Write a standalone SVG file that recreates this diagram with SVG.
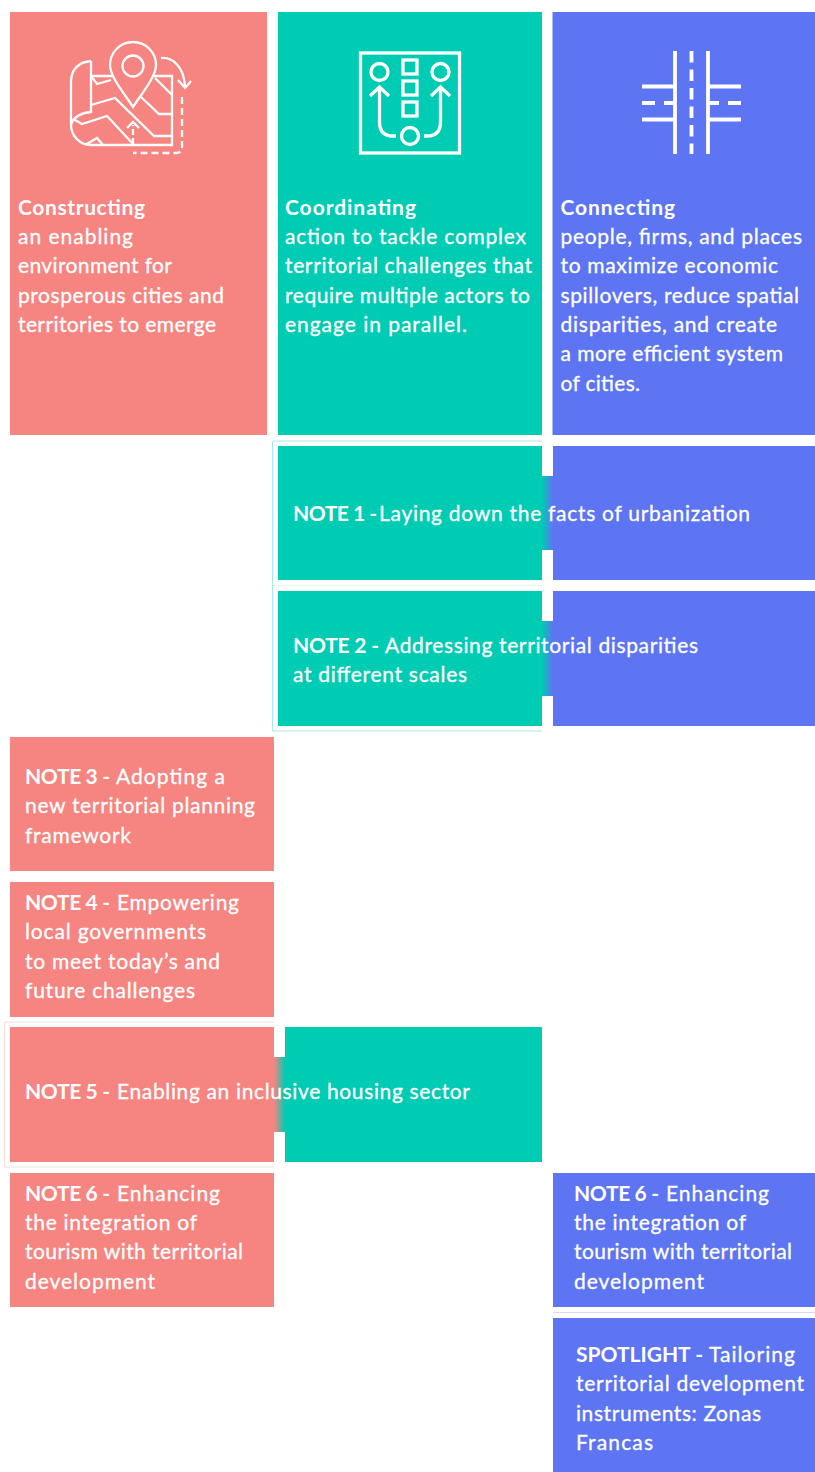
<svg xmlns="http://www.w3.org/2000/svg" width="815" height="1472" viewBox="0 0 815 1472">
<style>
.r{fill:#F68480}.g{fill:#00CCB4}.b{fill:#5D75F2}
text{font-family:"Lato","Liberation Sans",sans-serif;font-size:21px;fill:#fff;stroke:#fff;stroke-width:.3px}
.h{font-weight:700;stroke-width:0}
.i{fill:none;stroke:#fff;stroke-width:2.300}
.j{fill:none;stroke:#fff;stroke-width:3.300}
.k{fill:none;stroke:#fff;stroke-width:3.800}
</style>
<defs>
<linearGradient id="gb"><stop offset="0" stop-color="#00CCB4"/><stop offset="1" stop-color="#5D75F2"/></linearGradient>
<linearGradient id="rg"><stop offset="0" stop-color="#F68480"/><stop offset="1" stop-color="#00CCB4"/></linearGradient>
</defs>
<rect width="815" height="1472" fill="#fff"/>
<g id="constructing">
<rect class="r" x="10" y="12" width="257" height="423"/>
<g class="i">
<path d="M91 61C78 62 71 70 71 82V125C71 136 80 145 91 145H172V76H154M91 61V112C80 113 73 118 71 125M91 76H112M91 76L97 84L111 80M91 105L115 98L154 136H172M75 120L82 124L107 116L134 145M85 145L97 138L103 145M141 97L159 114H172M155 78L172 95"/>
<path d="M133 107C124 93 110 77 110 65A22.500 22.500 0 0 1 156 65C156 77 142 93 133 107Z" fill="#F68480"/>
<circle cx="133" cy="66" r="10.500"/>
<path d="M161 58C172 57 184 66 185 87M178 80L185 88L191 81"/>
<path d="M182 97V147Q182 153 176 153H133" stroke-dasharray="7 4"/>
<path d="M133 144V125" stroke-dasharray="6 3"/>
<path d="M127 128L133 122L139 128"/>
</g>
<text x="18" y="215" class="h" textLength="127">Constructing</text>
<text x="18" y="244" textLength="115">an enabling</text>
<text x="18" y="273" textLength="154">environment for</text>
<text x="18" y="303" textLength="206">prosperous cities and</text>
<text x="18" y="332" textLength="198">territories to emerge</text>
</g>
<g id="coordinating">
<rect class="g" x="278" y="12" width="264" height="423"/>
<g class="j">
<rect x="360.500" y="53" width="99" height="100"/>
<circle cx="379.500" cy="72" r="8.500"/><circle cx="440.500" cy="72" r="8.500"/><circle cx="410" cy="136" r="8.500"/>
<rect x="403" y="60" width="14" height="14"/><rect x="403" y="81" width="14" height="14"/><rect x="403" y="102" width="14" height="14"/>
<path d="M379.500 87V122Q379.500 136 393 136H396M424 136H427Q440.500 136 440.500 122V87M370 96L379.500 87L389 96M431 96L440.500 87L450 96"/>
</g>
<text x="285" y="215" class="h" textLength="131">Coordinating</text>
<text x="285" y="244" textLength="241">action to tackle complex</text>
<text x="285" y="273" textLength="247">territorial challenges that</text>
<text x="285" y="303" textLength="245">require multiple actors to</text>
<text x="285" y="332" textLength="182">engage in parallel.</text>
</g>
<g id="connecting">
<rect class="b" x="552.500" y="12" width="262.500" height="423"/>
<g class="k">
<path d="M675 51V154M708 51V154M642 86.500H674M709 86.500H741M642 119.500H674M709 119.500H741"/>
<path d="M691.500 51V154" stroke-dasharray="11.500 7"/>
<path d="M642 103H655M664 103H674M709 103H719M728 103H741"/>
</g>
<text x="560.500" y="215" class="h" textLength="114.500">Connecting</text>
<text x="560.500" y="244" textLength="241.500">people, firms, and places</text>
<text x="560.500" y="273" textLength="217.500">to maximize economic</text>
<text x="560.500" y="303" textLength="238.500">spillovers, reduce spatial</text>
<text x="560.500" y="332" textLength="216.500">disparities, and create</text>
<text x="560.500" y="361" textLength="222.500">a more efficient system</text>
<text x="560.500" y="391" textLength="79.500">of cities.</text>
</g>
<g id="outlines" fill="none">
<path d="M542 441H272.500V731H542" stroke="#A8EBE2"/>
<path d="M273 585.500H542" stroke="#DDF8F4"/>
<path d="M274 1022H4.500V1167H274" stroke="#FCDCDB"/>
<path d="M553 1312.500H815" stroke="#D6DDFC"/>
</g>
<g id="note1">
<rect class="g" x="278" y="446" width="264" height="134"/>
<rect class="b" x="553" y="446" width="262" height="134"/>
<rect x="542" y="476" width="11" height="74" fill="url(#gb)"/>
<text y="521"><tspan class="h" x="293" textLength="84">NOTE 1 -</tspan><tspan x="379" textLength="371">Laying down the facts of urbanization</tspan></text>
</g>
<g id="note2">
<rect class="g" x="278" y="591" width="264" height="135"/>
<rect class="b" x="553" y="591" width="262" height="135"/>
<rect x="542" y="621" width="11" height="75" fill="url(#gb)"/>
<text y="653"><tspan class="h" x="293" textLength="86">NOTE 2 -</tspan><tspan x="385" textLength="313">Addressing territorial disparities</tspan></text>
<text x="293" y="682" textLength="174">at different scales</text>
</g>
<g id="note3">
<rect class="r" x="10" y="737" width="264" height="134"/>
<text y="784"><tspan class="h" x="25" textLength="85">NOTE 3 -</tspan><tspan x="116" textLength="109">Adopting a</tspan></text>
<text x="25" y="813" textLength="230">new territorial planning</text>
<text x="25" y="843" textLength="106">framework</text>
</g>
<g id="note4">
<rect class="r" x="10" y="882" width="264" height="135"/>
<text y="910"><tspan class="h" x="25" textLength="85">NOTE 4 -</tspan><tspan x="117" textLength="122">Empowering</tspan></text>
<text x="25" y="939" textLength="181">local governments</text>
<text x="25" y="969" textLength="195">to meet today’s and</text>
<text x="25" y="998" textLength="170">future challenges</text>
</g>
<g id="note5">
<rect class="r" x="10" y="1027" width="264" height="135"/>
<rect class="g" x="285" y="1027" width="257" height="135"/>
<rect x="274" y="1057" width="11" height="75" fill="url(#rg)"/>
<text y="1099"><tspan class="h" x="25" textLength="85">NOTE 5 -</tspan><tspan x="117" textLength="353">Enabling an inclusive housing sector</tspan></text>
</g>
<g id="note6a">
<rect class="r" x="10" y="1173" width="264" height="134"/>
<text y="1201"><tspan class="h" x="25" textLength="85">NOTE 6 -</tspan><tspan x="117" textLength="103">Enhancing</tspan></text>
<text x="25" y="1230" textLength="172">the integration of</text>
<text x="25" y="1259" textLength="218">tourism with territorial</text>
<text x="25" y="1289" textLength="130">development</text>
</g>
<g id="note6b">
<rect class="b" x="553" y="1173" width="262" height="134"/>
<text y="1201"><tspan class="h" x="574" textLength="85">NOTE 6 -</tspan><tspan x="666" textLength="103">Enhancing</tspan></text>
<text x="574" y="1230" textLength="172">the integration of</text>
<text x="574" y="1259" textLength="218">tourism with territorial</text>
<text x="574" y="1289" textLength="130">development</text>
</g>
<g id="spotlight">
<rect class="b" x="553" y="1318" width="262" height="154"/>
<text y="1362"><tspan class="h" x="576" textLength="127">SPOTLIGHT -</tspan><tspan x="709" textLength="86">Tailoring</tspan></text>
<text x="576" y="1391" textLength="228">territorial development</text>
<text x="576" y="1421" textLength="185">instruments: Zonas</text>
<text x="576" y="1450" textLength="77">Francas</text>
</g>
</svg>
